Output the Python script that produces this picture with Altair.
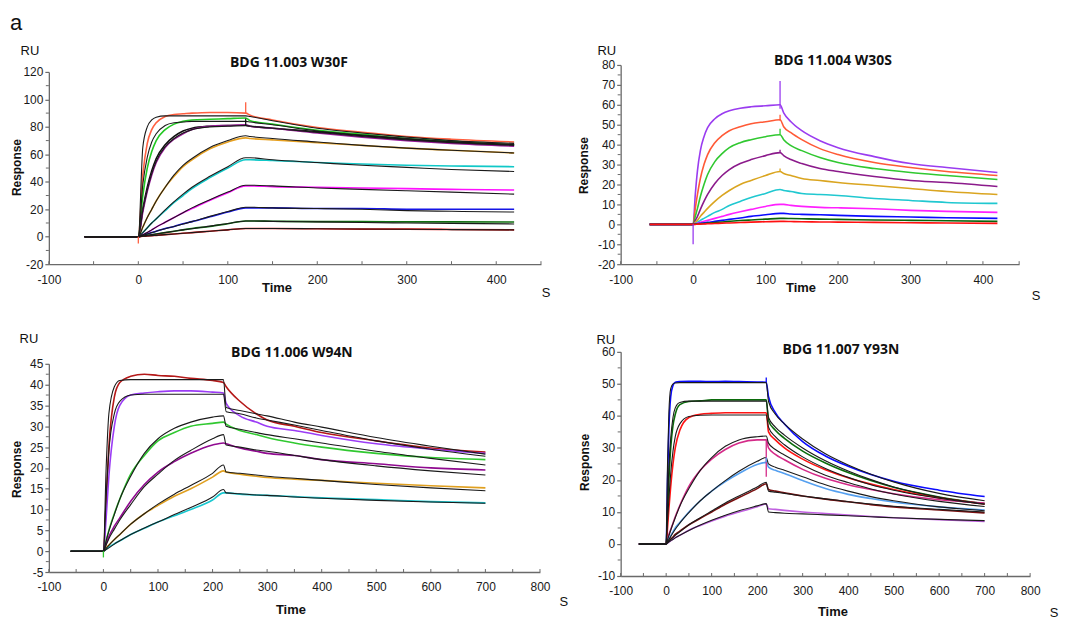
import altair as alt
import pandas as pd

# ================= Panel 1: BDG 11.003 W30F =================
W30F_T = [-60, -2, 0, 5, 10, 15, 20, 30, 40, 50, 60, 80, 100, 120, 125, 150, 200, 250, 300, 350, 420]
W30F_TOMATO = [0, 0, 0, 45, 68, 78, 83, 87.5, 89, 89.5, 90, 90.5, 90.5, 90, 88.5, 85, 79.5, 76, 73, 71, 69]
W30F_GREEN = [0, 0, 0, 30, 50, 62, 70, 78, 82, 84, 85, 85.5, 86, 86.5, 84.5, 82, 77.5, 74.5, 71.5, 69.5, 67]
W30F_BLACK = [0, 0, 0, 20, 36, 48, 57, 67, 73, 77, 79, 80.5, 81, 81, 80.5, 79, 76.5, 73.5, 71, 69, 67]
W30F_PURPLE = [0, 0, 0, 18, 33, 45, 54, 65, 71, 75, 78, 80.5, 81, 81.5, 80.5, 79, 75.5, 72.5, 70, 68, 66]
W30F_ORANGE = [0, 0, 0, 7, 14, 20, 26, 36, 44, 51, 56, 64, 69, 72, 71.5, 70.5, 68.5, 66.5, 64.5, 63, 61]
W30F_CYAN = [0, 0, 0, 3, 6.5, 10, 13, 19, 25, 30, 35, 43, 50, 56, 56, 55.5, 54, 53, 52, 51.5, 51]
W30F_MAGENTA = [0, 0, 0, 1.5, 3, 5, 7, 10.5, 14, 17.5, 20.5, 26.5, 32, 37, 37, 36.5, 36, 35.5, 35, 34.5, 34]
W30F_BLUE = [0, 0, 0, 1, 2, 3, 4, 6, 7.5, 9.5, 11, 14.5, 18, 21, 21, 21, 20.5, 20.5, 20, 20, 20]
W30F_DKGREEN = [0, 0, 0, 0.5, 1, 1.5, 2, 3, 4, 5, 6, 7.5, 9.5, 11.5, 11.5, 11.3, 11, 11, 10.8, 10.8, 10.7]
W30F_RED = [0, 0, 0, 0.3, 0.5, 0.8, 1, 1.5, 2, 2.5, 3, 4, 5, 6, 6, 6, 5.8, 5.5, 5.5, 5.3, 5]
W30F_FIT_TOMATO = [0, 0, 0, 65, 80, 85, 87, 88, 88, 88, 88, 88, 88, 88, 87.5, 84.5, 79, 75.5, 72.5, 70, 68]
W30F_FIT_GREEN = [0, 0, 0, 38, 58, 69, 75, 81, 83, 83.5, 84, 84, 84, 84, 83.5, 81.5, 77, 74, 71.5, 69, 67]
W30F_FIT_PURPLE = [0, 0, 0, 19, 34, 46, 55, 65.5, 71.5, 75.5, 78, 80, 80.5, 81, 80.5, 79, 76, 73, 70.5, 68.5, 66.5]
W30F_FIT_ORANGE = [0, 0, 0, 7, 14, 20, 26, 36, 45, 52, 57, 65, 70, 73.5, 73, 71.5, 69, 66.5, 64.5, 63, 61]
W30F_FIT_CYAN = [0, 0, 0, 3, 6.5, 10, 13, 19.5, 25.5, 31, 36, 44, 51, 57.5, 57.5, 56, 54, 52, 50.5, 49, 47.5]
W30F_FIT_MAGENTA = [0, 0, 0, 1.5, 3, 5, 7, 10.5, 14, 17.5, 21, 27, 32.5, 37.5, 37.5, 37, 35.5, 34.5, 33.5, 32.5, 31]
W30F_FIT_BLUE = [0, 0, 0, 1, 2, 3, 4, 5.8, 7.5, 9.3, 11, 14.8, 18.3, 21.5, 21.5, 21, 20.5, 20, 19, 18.5, 18]
W30F_FIT_DKGREEN = [0, 0, 0, 0.5, 1, 1.5, 2, 3, 4, 5, 5.8, 7.7, 9.6, 11.5, 11.5, 11.2, 10.8, 10.4, 10, 9.7, 9.3]
W30F_FIT_RED = [0, 0, 0, 0.3, 0.5, 0.8, 1, 1.5, 2, 2.5, 3, 4, 5, 6, 6, 6, 5.8, 5.6, 5.4, 5.2, 5]
W30F_SPIKE_T = [0, 120, 120]
W30F_SPIKE_LO = [-5, 90, 81]
W30F_SPIKE_HI = [0, 98, 86]
W30F_SPIKE_S = ["tomato", "tomato", "black"]

# ================= Panel 2: BDG 11.004 W30S =================
W30S_T = [-60, -2, 0, 3, 6, 10, 15, 20, 30, 40, 50, 65, 80, 100, 120, 125, 135, 150, 175, 200, 250, 300, 350, 420]
W30S_VIOLET = [0, 0, 0, 15, 27, 37, 44, 48.5, 53, 55.5, 57, 58.3, 59, 59.5, 60, 56, 51.5, 47, 42, 38.5, 34, 30.5, 28.5, 26]
W30S_TOMATO = [0, 0, 0, 8, 15, 23, 30, 35, 41, 44.5, 47, 49, 50.5, 51.5, 52.5, 49, 46, 42.5, 38, 35, 31, 28.5, 26.5, 24.5]
W30S_GREEN = [0, 0, 0, 4, 8, 14, 20, 25, 31.5, 35.5, 38.5, 41, 42.5, 44, 45, 42.5, 39.5, 37, 33.5, 31, 28, 26, 24.5, 22.5]
W30S_DKPURPLE = [0, 0, 0, 2, 4, 7.5, 11.5, 15, 20.5, 24.5, 27.5, 30.5, 32.5, 34.5, 36, 34.5, 32.5, 30.5, 28, 26.5, 24, 22, 21, 19]
W30S_GOLD = [0, 0, 0, 1, 2, 4, 6, 8, 11.5, 14.5, 17, 20, 22, 24.5, 26.5, 25.5, 24.5, 23, 22, 21, 19.5, 18, 16.5, 15]
W30S_CYAN = [0, 0, 0, 0.5, 1, 2, 3, 4, 6, 7.5, 9.5, 11.5, 13.5, 15.5, 17.5, 17, 16.5, 15.5, 15, 14.5, 13, 12, 11, 10.5]
W30S_MAGENTA = [0, 0, 0, 0.3, 0.6, 1, 1.5, 2, 3, 4, 5, 6.3, 7.5, 9, 10, 10, 9.5, 9, 8.5, 8.3, 7.8, 7, 6.5, 6]
W30S_BLUE = [0, 0, 0, 0.2, 0.3, 0.5, 0.8, 1, 1.5, 2, 2.5, 3.2, 4, 4.8, 5.5, 5.5, 5.2, 5, 4.8, 4.5, 4, 3.7, 3.3, 3]
W30S_DKGREEN = [0, 0, 0, 0.1, 0.2, 0.3, 0.4, 0.6, 0.9, 1.2, 1.5, 1.9, 2.2, 2.6, 3, 3, 2.9, 2.8, 2.6, 2.5, 2.2, 2, 1.8, 1.5]
W30S_RED = [0, 0, 0, 0, 0.1, 0.1, 0.2, 0.3, 0.4, 0.6, 0.7, 0.9, 1.1, 1.3, 1.5, 1.5, 1.4, 1.3, 1.2, 1.1, 1, 0.8, 0.7, 0.5]
W30S_SPIKE_T = [0, 120, 120, 120, 120, 120]
W30S_SPIKE_LO = [-10, 58, 52, 45, 36, 26.5]
W30S_SPIKE_HI = [0, 72, 55, 48, 37.5, 28]
W30S_SPIKE_S = ["violet", "violet", "tomato", "green", "dkpurple", "gold"]

# ================= Panel 3: BDG 11.006 W94N =================
W94N_T = [-60, -2, 0, 5, 10, 20, 30, 50, 75, 100, 130, 160, 200, 220, 225, 250, 280, 300, 350, 400, 500, 600, 700]
W94N_DKRED = [0, 0, 0, 12, 25, 37, 40.5, 42, 42.5, 42.2, 42, 41.5, 41, 40.5, 39.5, 36, 33, 31.5, 30, 28.5, 26.5, 24.8, 23.8]
W94N_VIOLET = [0, 0, 0, 8, 18, 30, 35, 37.5, 38, 38.3, 38.5, 38.5, 38.2, 38, 35.5, 32.5, 31, 30, 29, 27.8, 25.8, 24.5, 23.5]
W94N_GREEN = [0, 0, 0, 2.5, 5, 9, 12.5, 18.5, 23, 26.5, 28.5, 30, 30.7, 31, 30.5, 29, 28, 27.3, 26, 25, 23.5, 22.5, 22]
W94N_PURPLE = [0, 0, 0, 1.8, 3.5, 6, 8, 12, 16, 19, 21.5, 23.5, 25.5, 26, 25.8, 24.8, 24, 23.5, 23, 22, 21, 20, 19.5]
W94N_GOLD = [0, 0, 0, 0.8, 1.5, 2.8, 4, 6.5, 9, 11, 13.2, 15, 17.8, 19.3, 19, 18.5, 18, 17.7, 17.3, 17, 16.3, 15.7, 15.2]
W94N_CYAN = [0, 0, 0, 0.5, 1, 1.8, 2.5, 4, 5.5, 7, 8.5, 10, 12.3, 14, 14, 13.7, 13.5, 13.4, 13.1, 12.8, 12.4, 11.9, 11.6]
W94N_FIT_DKRED = [0, 0, 0, 20, 33, 39.5, 41, 41.2, 41.2, 41.2, 41.2, 41.2, 41.2, 41.2, 34.5, 33.8, 33, 32.5, 31, 29.8, 27.3, 25.2, 23.3]
W94N_FIT_VIOLET = [0, 0, 0, 13, 24, 33, 36, 37.5, 37.7, 37.7, 37.7, 37.7, 37.7, 37.7, 33.5, 33, 32, 31.5, 30.3, 29, 26.5, 24.5, 22.8]
W94N_FIT_GREEN = [0, 0, 0, 2.5, 4.8, 8.8, 12.5, 18, 23.5, 27, 29.5, 31, 32.2, 32.5, 30, 29.3, 28.5, 28, 27, 26, 24, 22.3, 20.7]
W94N_FIT_PURPLE = [0, 0, 0, 1.5, 3, 5.3, 7.5, 11.2, 15.5, 18.5, 21.8, 24.2, 27, 28, 25.5, 25, 24.3, 24, 23, 22, 20.5, 19.3, 18.3]
W94N_FIT_GOLD = [0, 0, 0, 0.7, 1.4, 2.8, 4, 6.5, 9, 11.3, 13.7, 15.8, 18.7, 20.7, 19, 18.7, 18.3, 18, 17.5, 17, 16, 15.2, 14.5]
W94N_FIT_CYAN = [0, 0, 0, 0.4, 0.8, 1.7, 2.5, 4, 5.6, 7, 8.8, 10.5, 13, 14.8, 14, 13.8, 13.5, 13.4, 13, 12.7, 12.2, 11.8, 11.5]
W94N_SPIKE_T = [0]
W94N_SPIKE_LO = [-1.5]
W94N_SPIKE_HI = [0]
W94N_SPIKE_S = ["green"]

# ================= Panel 4: BDG 11.007 Y93N =================
Y93N_T = [-60, -2, 0, 3, 6, 10, 15, 20, 30, 50, 75, 100, 130, 160, 200, 220, 225, 240, 260, 300, 350, 400, 450, 500, 600, 700]
Y93N_BLUE = [0, 0, 0, 20, 36, 46, 49.5, 50.5, 50.7, 50.8, 50.8, 50.7, 50.8, 50.7, 50.6, 50.5, 46, 41, 37.5, 32, 27.5, 24.3, 21.7, 19.6, 16.8, 14.8]
Y93N_DKGREEN = [0, 0, 0, 10, 20, 30, 37, 40.5, 43.5, 44.5, 44.7, 45, 45, 45, 45, 45, 38.5, 35.5, 33, 29, 25.3, 22.3, 19.8, 17.7, 14.7, 12.6]
Y93N_RED = [0, 0, 0, 5, 11, 18, 25, 30, 35.5, 39.5, 40.5, 40.8, 41, 41, 41, 41, 35, 32.5, 30, 26.5, 23.2, 20.7, 18.7, 17, 14.4, 12.5]
Y93N_PINK = [0, 0, 0, 1.5, 3, 4.5, 6.5, 8.5, 12, 18, 23, 26.5, 29.5, 31.5, 32.5, 32.5, 30, 28, 26.3, 23.3, 20.5, 18.5, 17, 15.7, 13.8, 12.8]
Y93N_LTBLUE = [0, 0, 0, 0.8, 1.6, 2.6, 3.8, 5, 6.7, 10, 13.5, 16.5, 19.5, 22, 24.8, 25.5, 24, 23, 22, 19.8, 17.3, 15.5, 14.2, 13.1, 11.6, 10.6]
Y93N_MAROON = [0, 0, 0, 0.5, 1, 1.5, 2.2, 3, 4, 6, 8, 10, 12.4, 14.5, 17.3, 18.8, 17, 16.5, 16, 15, 14, 13.2, 12.3, 11.6, 10.6, 9.7]
Y93N_ORCHID = [0, 0, 0, 0.3, 0.6, 1, 1.5, 2, 2.7, 4.3, 5.8, 7.2, 8.7, 10, 11.6, 12.5, 11, 10.8, 10.5, 10, 9.5, 9, 8.6, 8.2, 7.6, 7]
Y93N_FIT_BLUE = [0, 0, 0, 25, 41, 48.5, 50, 50.3, 50.4, 50.4, 50.4, 50.4, 50.4, 50.4, 50.4, 50.4, 44.5, 40.5, 37.5, 32.8, 28.2, 24.7, 21.8, 19.4, 15.8, 13.5]
Y93N_FIT_DKGREEN = [0, 0, 0, 13, 24, 33, 39.5, 42.5, 44.2, 44.6, 44.6, 44.6, 44.6, 44.6, 44.6, 44.6, 39.5, 36.5, 34, 30, 26, 22.8, 20.1, 17.8, 14.6, 12.5]
Y93N_FIT_RED = [0, 0, 0, 7, 14, 22, 29, 33.5, 37.5, 39.8, 40.2, 40.3, 40.3, 40.3, 40.3, 40.3, 36.5, 33.5, 31, 27.2, 23.6, 20.8, 18.5, 16.8, 14.3, 12.4]
Y93N_FIT_PINK = [0, 0, 0, 1.3, 2.6, 4.3, 6.3, 8.2, 11.8, 17.3, 23, 27, 30.5, 32.5, 33.5, 33.7, 31.5, 29.5, 27.8, 24.7, 21.5, 19.2, 17.2, 15.6, 13.3, 11.7]
Y93N_FIT_LTBLUE = [0, 0, 0, 0.7, 1.4, 2.3, 3.5, 4.6, 6.5, 9.8, 13.5, 16.5, 19.8, 22.7, 25.8, 27, 25, 24, 23, 21, 18.5, 16.5, 14.8, 13.5, 11.6, 10.4]
Y93N_FIT_MAROON = [0, 0, 0, 0.4, 0.9, 1.4, 2, 2.7, 3.8, 6, 8.2, 10.3, 12.8, 15, 17.8, 19.3, 16.5, 16.2, 15.8, 15, 14.1, 13.2, 12.5, 11.8, 10.8, 10]
Y93N_FIT_ORCHID = [0, 0, 0, 0.3, 0.6, 1, 1.4, 1.9, 2.7, 4.2, 5.9, 7.4, 9, 10.4, 11.9, 12.6, 10, 9.8, 9.6, 9.4, 9.1, 8.8, 8.5, 8.2, 7.7, 7.3]
Y93N_SPIKE_T = [220, 220, 220]
Y93N_SPIKE_LO = [21, 50.5, 25.5]
Y93N_SPIKE_HI = [32.5, 52, 27]
Y93N_SPIKE_S = ["pink", "blue", "ltblue"]

# ================= Axis ticks =================
X_MAJOR_SHORT = [-100, 0, 100, 200, 300, 400]
X_MINOR_SHORT = [-50, 50, 150, 250, 350, 450]
X_MAJOR_LONG = [-100, 0, 100, 200, 300, 400, 500, 600, 700, 800]
X_MINOR_LONG = [-50, 50, 150, 250, 350, 450, 550, 650, 750]
Y1_MAJOR = [-20, 0, 20, 40, 60, 80, 100, 120]
Y1_MINOR = [-10, 10, 30, 50, 70, 90, 110]
Y2_MAJOR = [-20, -10, 0, 10, 20, 30, 40, 50, 60, 70, 80]
Y2_MINOR = [-15, -5, 5, 15, 25, 35, 45, 55, 65, 75]
Y3_MAJOR = [-5, 0, 5, 10, 15, 20, 25, 30, 35, 40, 45]
Y3_MINOR = [-2.5, 2.5, 7.5, 12.5, 17.5, 22.5, 27.5, 32.5, 37.5, 42.5]
Y4_MAJOR = [-10, 0, 10, 20, 30, 40, 50, 60]
Y4_MINOR = [-5, 5, 15, 25, 35, 45, 55]

FONT = "Liberation Sans"
TITLE_FONT = "Open Sans"
AXIS_GRAY = "#6a6a6a"
FIT_COLOR = "#1a1a1a"
ONE = pd.DataFrame({"k": [0]})


def long_table(times, curves, colors=None):
    rows = []
    for i, (name, vals) in enumerate(curves):
        assert len(vals) == len(times), name
        c = colors[i] if colors else FIT_COLOR
        rows += [{"t": t, "v": v, "s": name, "c": c} for t, v in zip(times, vals)]
    return pd.DataFrame(rows)


def label(txt, x, y, size=12, weight="normal", font=FONT, angle=None,
          align="center", baseline="middle"):
    kw = dict(text=txt, font=font, fontSize=size, fontWeight=weight,
              align=align, baseline=baseline, color="#111111")
    if angle is not None:
        kw["angle"] = angle
    return alt.Chart(ONE).mark_text(**kw).encode(x=alt.value(x), y=alt.value(y))


def panel(title, times, data, fits, spikes, xdom, ydom, xmajor, xminor,
          ymajor, yminor, width, height, ytop, ybot, pos, extra=None):
    cmap = {d[0]: d[1] for d in data}
    xs = alt.Scale(domain=xdom, nice=False, zero=False)
    ys = alt.Scale(domain=ydom, nice=False, zero=False, range=[ybot, ytop])
    xaxis = alt.Axis(values=xmajor, labelExpr="datum.value + ''", ticks=False,
                     labelPadding=10, labelFont=FONT, labelFontSize=12, labelColor="#1a1a1a",
                     domainColor=AXIS_GRAY, domainWidth=1.3, grid=False, title=None,
                     labelFlush=False, labelOverlap=False)
    yaxis = alt.Axis(values=ymajor, labelExpr="datum.value + ''", ticks=True, tickSize=4,
                     tickColor=AXIS_GRAY, tickWidth=1.2, labelPadding=2, labelFont=FONT,
                     labelFontSize=12, labelColor="#1a1a1a", domainColor=AXIS_GRAY,
                     domainWidth=1.3, grid=False, title=None, labelFlush=False,
                     labelOverlap=False)

    X = alt.X("t:Q", scale=xs, axis=xaxis)
    ddf = long_table(times, [(d[0], d[2]) for d in data], [d[1] for d in data])
    layers = [
        alt.Chart(ddf).mark_line(strokeWidth=1.6, interpolate="monotone").encode(
            x=X,
            y=alt.Y("v:Q", scale=ys, axis=yaxis),
            color=alt.Color("c:N", scale=None),
            detail="s:N",
        )
    ]
    if fits:
        fdf = long_table(times, fits)
        layers.append(
            alt.Chart(fdf).mark_line(strokeWidth=1.1, color=FIT_COLOR, interpolate="monotone").encode(
                x=X,
                y=alt.Y("v:Q", scale=ys, axis=yaxis),
                detail="s:N",
            )
        )
    st, slo, shi, ss = spikes
    sdf = pd.DataFrame({"t": st, "lo": slo, "hi": shi, "c": [cmap[s] for s in ss]})
    layers.append(
        alt.Chart(sdf).mark_rule(strokeWidth=1.3).encode(
            x=X,
            y=alt.Y("lo:Q", scale=ys, axis=yaxis),
            y2="hi:Q",
            color=alt.Color("c:N", scale=None),
        )
    )
    layers.append(
        alt.Chart(pd.DataFrame({"v": yminor})).mark_rule(color=AXIS_GRAY, strokeWidth=1).encode(
            y=alt.Y("v:Q", scale=ys, axis=yaxis), x=alt.value(-3), x2=alt.value(0)
        )
    )
    layers.append(
        alt.Chart(pd.DataFrame({"t": xmajor + xminor})).mark_rule(color=AXIS_GRAY, strokeWidth=1).encode(
            x=X, y=alt.value(ybot - 3), y2=alt.value(ybot)
        )
    )
    layers.append(label(title, *pos["title"], size=14, weight="bold", font=TITLE_FONT))
    layers.append(label("RU", *pos["ru"], size=13))
    layers.append(label("Response", *pos["resp"], size=12, weight="bold", angle=270))
    layers.append(label("Time", *pos["time"], size=13, weight="bold"))
    layers.append(label("S", *pos["s"], size=13))
    if extra is not None:
        layers.append(extra)
    return alt.layer(*layers).properties(width=width, height=height)


p1 = panel(
    "BDG 11.003 W30F", W30F_T,
    [("tomato", "#ff6040", W30F_TOMATO), ("green", "#22c822", W30F_GREEN),
     ("black", "#111111", W30F_BLACK), ("purple", "#9a1a9a", W30F_PURPLE),
     ("orange", "#e6a020", W30F_ORANGE), ("cyan", "#10c8c8", W30F_CYAN),
     ("magenta", "#ff10ff", W30F_MAGENTA), ("blue", "#1515e6", W30F_BLUE),
     ("dkgreen", "#107010", W30F_DKGREEN), ("red", "#e01010", W30F_RED)],
    [("f1", W30F_FIT_TOMATO), ("f2", W30F_FIT_GREEN), ("f3", W30F_FIT_PURPLE),
     ("f4", W30F_FIT_ORANGE), ("f5", W30F_FIT_CYAN), ("f6", W30F_FIT_MAGENTA),
     ("f7", W30F_FIT_BLUE), ("f8", W30F_FIT_DKGREEN), ("f9", W30F_FIT_RED)],
    (W30F_SPIKE_T, W30F_SPIKE_LO, W30F_SPIKE_HI, W30F_SPIKE_S),
    [-100, 450], [-20, 120], X_MAJOR_SHORT, X_MINOR_SHORT, Y1_MAJOR, Y1_MINOR,
    494, 200, 7, 200,
    {"title": (241, -2), "ru": (-19, -14), "resp": (-32, 103), "time": (229, 224), "s": (499, 229)},
    extra=label("a", -39, -35, size=22, font=FONT, align="left", baseline="alphabetic"),
)

p2 = panel(
    "BDG 11.004 W30S", W30S_T,
    [("violet", "#9a3cf0", W30S_VIOLET), ("tomato", "#ff5a36", W30S_TOMATO),
     ("green", "#30c830", W30S_GREEN), ("dkpurple", "#8b1a8b", W30S_DKPURPLE),
     ("gold", "#daa520", W30S_GOLD), ("cyan", "#20c8d0", W30S_CYAN),
     ("magenta", "#ff20ff", W30S_MAGENTA), ("blue", "#0a0aff", W30S_BLUE),
     ("dkgreen", "#0a640a", W30S_DKGREEN), ("red", "#ff1010", W30S_RED)],
    None,
    (W30S_SPIKE_T, W30S_SPIKE_LO, W30S_SPIKE_HI, W30S_SPIKE_S),
    [-100, 450], [-20, 80], X_MAJOR_SHORT, X_MINOR_SHORT, Y2_MAJOR, Y2_MINOR,
    400, 200, 0, 200,
    {"title": (213, -4), "ru": (-14, -14), "resp": (-37, 101), "time": (181, 224), "s": (417, 232)},
)

p3 = panel(
    "BDG 11.006 W94N", W94N_T,
    [("dkred", "#b41818", W94N_DKRED), ("violet", "#9b3cf5", W94N_VIOLET),
     ("green", "#30c830", W94N_GREEN), ("purple", "#900a90", W94N_PURPLE),
     ("gold", "#e0a020", W94N_GOLD), ("cyan", "#18c8d0", W94N_CYAN)],
    [("f1", W94N_FIT_DKRED), ("f2", W94N_FIT_VIOLET), ("f3", W94N_FIT_GREEN),
     ("f4", W94N_FIT_PURPLE), ("f5", W94N_FIT_GOLD), ("f6", W94N_FIT_CYAN)],
    (W94N_SPIKE_T, W94N_SPIKE_LO, W94N_SPIKE_HI, W94N_SPIKE_S),
    [-100, 800], [-5, 45], X_MAJOR_LONG, X_MINOR_LONG, Y3_MAJOR, Y3_MINOR,
    493, 221, 12, 221,
    {"title": (244, 1), "ru": (-20, -13), "resp": (-32, 118), "time": (243, 259), "s": (517, 251)},
)

p4 = panel(
    "BDG 11.007 Y93N", Y93N_T,
    [("blue", "#0a0aff", Y93N_BLUE), ("dkgreen", "#0b6b0b", Y93N_DKGREEN),
     ("red", "#ff1414", Y93N_RED), ("pink", "#d42a88", Y93N_PINK),
     ("ltblue", "#55a0f0", Y93N_LTBLUE), ("maroon", "#7a1010", Y93N_MAROON),
     ("orchid", "#c060e0", Y93N_ORCHID)],
    [("f1", Y93N_FIT_BLUE), ("f2", Y93N_FIT_DKGREEN), ("f3", Y93N_FIT_RED),
     ("f4", Y93N_FIT_PINK), ("f5", Y93N_FIT_LTBLUE), ("f6", Y93N_FIT_MAROON),
     ("f7", Y93N_FIT_ORCHID)],
    (Y93N_SPIKE_T, Y93N_SPIKE_LO, Y93N_SPIKE_HI, Y93N_SPIKE_S),
    [-100, 800], [-10, 60], X_MAJOR_LONG, X_MINOR_LONG, Y4_MAJOR, Y4_MINOR,
    411, 225, 0, 225,
    {"title": (221, -2), "ru": (-15, -12), "resp": (-36, 111), "time": (213, 261), "s": (435, 262)},
)

chart = alt.concat(
    p1, p2, p3, p4, columns=2, spacing={"row": 88, "column": 80}, bounds="flush"
).properties(
    padding={"left": 2, "top": 3, "right": 0, "bottom": 0}
).configure_view(stroke=None)

chart.save("out.html", embed_options={"renderer": "svg", "actions": False})
